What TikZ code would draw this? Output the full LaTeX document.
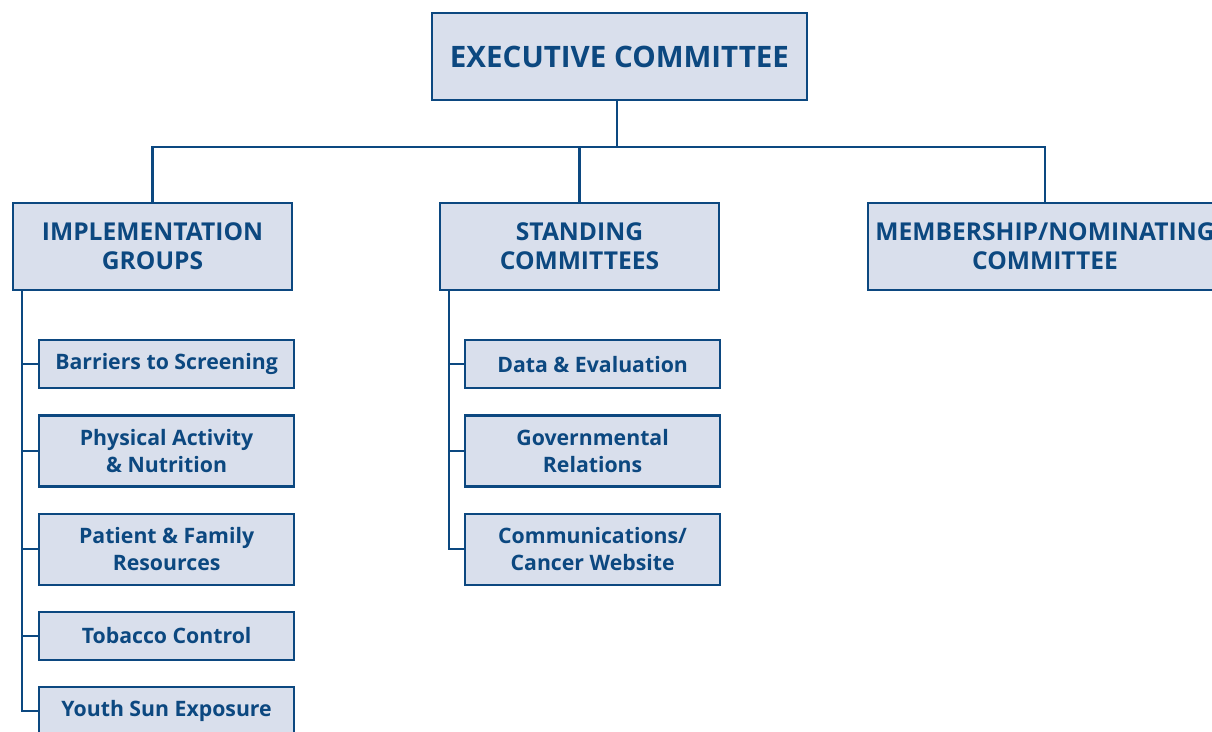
\documentclass[tikz,border=0pt]{standalone}
\usepackage{fontspec}
\setmainfont{Open Sans}
\usepackage{tikz}
\usetikzlibrary{positioning,calc}
\definecolor{orgblue}{RGB}{12,72,128}
\definecolor{orgfill}{RGB}{217,223,236}

\begin{document}
\begin{tikzpicture}[x=0.02cm, y=-0.02cm, line width=1.2pt, draw=orgblue,
      node distance=0.5cm,
      box/.style={draw=orgblue, fill=orgfill, text=orgblue, font=\bfseries,
        align=center, inner sep=0pt, line width=1.3pt},
      topbox/.style={box, minimum width=7.5cm, minimum height=1.74cm,
        font=\fontsize{16.8}{20}\bfseries},
      groupbox/.style={box, minimum width=5.58cm, minimum height=1.74cm,
        font=\fontsize{14}{16.6}\bfseries},
      subbox/.style={box, minimum width=5.1cm, minimum height=0.96cm,
        font=\fontsize{12.1}{15}\bfseries},
      tallbox/.style={subbox, minimum height=1.42cm}]
     \useasboundingbox (0,0) rectangle (1212,732);
     \clip (0,0) rectangle (1212,732);
     % top level
     \node[topbox] (exec) at (619.5,56.5) {EXECUTIVE COMMITTEE};
     \node[groupbox] (impl) at (152.5,246.5) {IMPLEMENTATION\\GROUPS};
     \node[groupbox] (stand) at (579.5,246.5) {STANDING\\COMMITTEES};
     \node[groupbox, minimum width=7.08cm] (memb) at (1045,246.5) {MEMBERSHIP/NOMINATING\\COMMITTEE};
     \coordinate (bus) at (617,147);
     \draw (exec.south -| bus) -- (bus);
     \draw (impl.north) |- (bus) -| (memb.north);
     \draw (stand.north) -- (stand.north |- bus);
     % implementation groups
     \node[subbox, anchor=north west] (impl1) at (38,339) {Barriers to Screening};
     \node[tallbox, below = of impl1] (impl2) {Physical Activity\\\& Nutrition};
     \node[tallbox, below = of impl2] (impl3) {Patient \& Family\\Resources};
     \node[subbox, below = of impl3] (impl4) {Tobacco Control};
     \node[subbox, below = of impl4] (impl5) {Youth Sun Exposure};
     \draw ([xshift=0.2cm]impl.south west) |- (impl5.west);
     \foreach \n in {1,...,4}
       \draw ([xshift=0.2cm]impl.south west |- impl\n.west) -- (impl\n.west);
     % standing committees
     \node[subbox, anchor=north west] (stand1) at (464,339) {Data \& Evaluation};
     \node[tallbox, below = of stand1] (stand2) {Governmental\\Relations};
     \node[tallbox, below = of stand2] (stand3) {Communications/\\Cancer Website};
     \draw ([xshift=0.2cm]stand.south west) |- (stand3.west);
     \foreach \n in {1,2}
       \draw ([xshift=0.2cm]stand.south west |- stand\n.west) -- (stand\n.west);
    \end{tikzpicture}
\end{document}
